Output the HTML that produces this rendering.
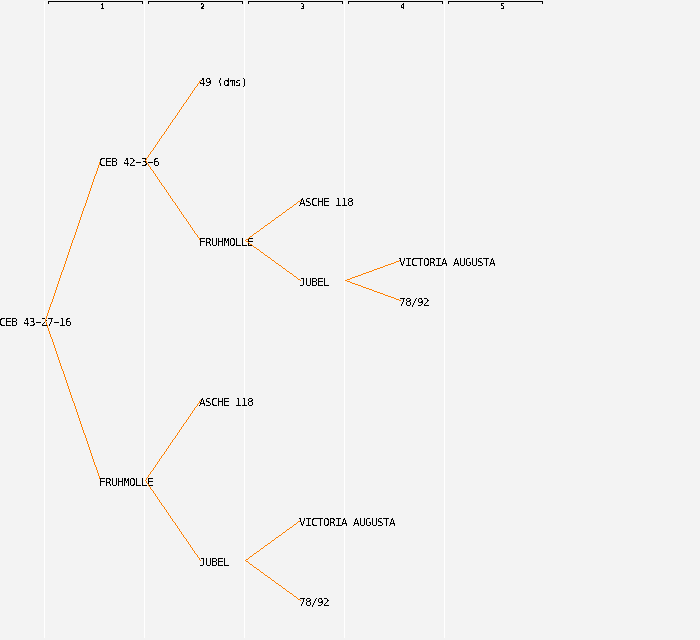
<!DOCTYPE html>
<html><head><meta charset="utf-8">
<style>
html,body{margin:0;padding:0;}
body{width:700px;height:640px;background:#f3f3f3;position:relative;overflow:hidden;}
.v{position:absolute;top:1px;width:1px;height:637px;background:#ffffff;}
.br{position:absolute;top:1px;height:2px;width:93px;border:1px solid #000;border-bottom:none;}
.n{position:absolute;font-family:"DejaVu Sans Mono",monospace;font-size:7.5px;line-height:8px;color:#000;filter:url(#thr2);}
.t{position:absolute;font-family:"DejaVu Sans Mono",monospace;font-size:11px;line-height:12px;letter-spacing:-0.62px;color:#000;white-space:pre;filter:url(#thr);}
svg.L{position:absolute;left:0;top:0;}
.m{display:inline-block;transform-origin:50% 0;transform:translateX(0.3px) scaleX(0.8);}
.p{display:inline-block;transform:translateY(-1px);}
.h{display:inline-block;transform:translateY(-1px) scaleX(1.8);}
</style></head><body>
<svg width="0" height="0" style="position:absolute"><filter id="thr" x="0" y="0" width="100%" height="100%"><feComponentTransfer><feFuncA type="discrete" tableValues="0 1"/></feComponentTransfer></filter><filter id="thr2" x="0" y="0" width="100%" height="100%"><feComponentTransfer><feFuncA type="discrete" tableValues="0 1 1"/></feComponentTransfer></filter></svg>

<div class="v" style="left:44px"></div>
<div class="v" style="left:144px"></div>
<div class="v" style="left:244px"></div>
<div class="v" style="left:344px"></div>
<div class="v" style="left:444px"></div>

<div class="br" style="left:48px"></div>
<div class="br" style="left:148px"></div>
<div class="br" style="left:248px"></div>
<div class="br" style="left:348px"></div>
<div class="br" style="left:448px"></div>
<div class="n" style="left:100.25px;top:3px">1</div>
<div class="n" style="left:200.25px;top:3px">2</div>
<div class="n" style="left:300.25px;top:3px">3</div>
<div class="n" style="left:400.25px;top:3px">4</div>
<div class="n" style="left:500.25px;top:3px">5</div>

<!-- generation 0 -->
<div class="t" style="left:-1px;top:317px">CEB 43<span class="h">-</span>27<span class="h">-</span>16</div>
<svg class="L" width="700" height="640" shape-rendering="crispEdges"><g fill="#ff8000">
<path d="M45 319h1v2h-1zM46 316h1v3h-1zM47 313h1v3h-1zM48 310h1v3h-1zM49 307h1v3h-1zM50 304h1v3h-1zM51 302h1v2h-1zM52 299h1v3h-1zM53 296h1v3h-1zM54 293h1v3h-1zM55 290h1v3h-1zM56 287h1v3h-1zM57 284h1v3h-1zM58 281h1v3h-1zM59 278h1v3h-1zM60 275h1v3h-1zM61 272h1v3h-1zM62 270h1v2h-1zM63 267h1v3h-1zM64 264h1v3h-1zM65 261h1v3h-1zM66 258h1v3h-1zM67 255h1v3h-1zM68 252h1v3h-1zM69 249h1v3h-1zM70 246h1v3h-1zM71 243h1v3h-1zM72 240h1v3h-1zM73 238h1v2h-1zM74 235h1v3h-1zM75 232h1v3h-1zM76 229h1v3h-1zM77 226h1v3h-1zM78 223h1v3h-1zM79 220h1v3h-1zM80 217h1v3h-1zM81 214h1v3h-1zM82 211h1v3h-1zM83 208h1v3h-1zM84 206h1v2h-1zM85 203h1v3h-1zM86 200h1v3h-1zM87 197h1v3h-1zM88 194h1v3h-1zM89 191h1v3h-1zM90 188h1v3h-1zM91 185h1v3h-1zM92 182h1v3h-1zM93 179h1v3h-1zM94 176h1v3h-1zM95 174h1v2h-1zM96 171h1v3h-1zM97 168h1v3h-1zM98 165h1v3h-1zM99 162h1v3h-1zM100 160h1v2h-1zM45 320h1v2h-1zM46 322h1v3h-1zM47 325h1v3h-1zM48 328h1v3h-1zM49 331h1v3h-1zM50 334h1v3h-1zM51 337h1v2h-1zM52 339h1v3h-1zM53 342h1v3h-1zM54 345h1v3h-1zM55 348h1v3h-1zM56 351h1v3h-1zM57 354h1v3h-1zM58 357h1v3h-1zM59 360h1v3h-1zM60 363h1v3h-1zM61 366h1v3h-1zM62 369h1v2h-1zM63 371h1v3h-1zM64 374h1v3h-1zM65 377h1v3h-1zM66 380h1v3h-1zM67 383h1v3h-1zM68 386h1v3h-1zM69 389h1v3h-1zM70 392h1v3h-1zM71 395h1v3h-1zM72 398h1v3h-1zM73 401h1v2h-1zM74 403h1v3h-1zM75 406h1v3h-1zM76 409h1v3h-1zM77 412h1v3h-1zM78 415h1v3h-1zM79 418h1v3h-1zM80 421h1v3h-1zM81 424h1v3h-1zM82 427h1v3h-1zM83 430h1v3h-1zM84 433h1v2h-1zM85 435h1v3h-1zM86 438h1v3h-1zM87 441h1v3h-1zM88 444h1v3h-1zM89 447h1v3h-1zM90 450h1v3h-1zM91 453h1v3h-1zM92 456h1v3h-1zM93 459h1v3h-1zM94 462h1v3h-1zM95 465h1v2h-1zM96 467h1v3h-1zM97 470h1v3h-1zM98 473h1v3h-1zM99 476h1v3h-1zM100 479h1v2h-1z"/>
</g></svg>

<!-- generation 1 -->
<div class="t" style="left:99px;top:157px">CEB 42<span class="h">-</span>3<span class="h">-</span>6</div>
<div class="t" style="left:99px;top:477px">FRUH<span class="m">M</span>OLLE</div>
<svg class="L" width="700" height="640" shape-rendering="crispEdges"><g fill="#ff8000">
<path d="M145 160h1v1h-1zM146 158h1v2h-1zM147 157h1v1h-1zM148 155h1v2h-1zM149 154h1v1h-1zM150 152h1v2h-1zM151 151h1v1h-1zM152 150h1v1h-1zM153 148h1v2h-1zM154 147h1v1h-1zM155 145h1v2h-1zM156 144h1v1h-1zM157 142h1v2h-1zM158 141h1v1h-1zM159 139h1v2h-1zM160 138h1v1h-1zM161 136h1v2h-1zM162 135h1v1h-1zM163 134h1v1h-1zM164 132h1v2h-1zM165 131h1v1h-1zM166 129h1v2h-1zM167 128h1v1h-1zM168 126h1v2h-1zM169 125h1v1h-1zM170 123h1v2h-1zM171 122h1v1h-1zM172 120h1v2h-1zM173 119h1v1h-1zM174 118h1v1h-1zM175 116h1v2h-1zM176 115h1v1h-1zM177 113h1v2h-1zM178 112h1v1h-1zM179 110h1v2h-1zM180 109h1v1h-1zM181 107h1v2h-1zM182 106h1v1h-1zM183 104h1v2h-1zM184 103h1v1h-1zM185 102h1v1h-1zM186 100h1v2h-1zM187 99h1v1h-1zM188 97h1v2h-1zM189 96h1v1h-1zM190 94h1v2h-1zM191 93h1v1h-1zM192 91h1v2h-1zM193 90h1v1h-1zM194 88h1v2h-1zM195 87h1v1h-1zM196 86h1v1h-1zM197 84h1v2h-1zM198 83h1v1h-1zM199 81h1v2h-1zM200 80h1v1h-1zM145 160h1v1h-1zM146 161h1v2h-1zM147 163h1v1h-1zM148 164h1v2h-1zM149 166h1v1h-1zM150 167h1v2h-1zM151 169h1v1h-1zM152 170h1v1h-1zM153 171h1v2h-1zM154 173h1v1h-1zM155 174h1v2h-1zM156 176h1v1h-1zM157 177h1v2h-1zM158 179h1v1h-1zM159 180h1v2h-1zM160 182h1v1h-1zM161 183h1v2h-1zM162 185h1v1h-1zM163 186h1v1h-1zM164 187h1v2h-1zM165 189h1v1h-1zM166 190h1v2h-1zM167 192h1v1h-1zM168 193h1v2h-1zM169 195h1v1h-1zM170 196h1v2h-1zM171 198h1v1h-1zM172 199h1v2h-1zM173 201h1v1h-1zM174 202h1v1h-1zM175 203h1v2h-1zM176 205h1v1h-1zM177 206h1v2h-1zM178 208h1v1h-1zM179 209h1v2h-1zM180 211h1v1h-1zM181 212h1v2h-1zM182 214h1v1h-1zM183 215h1v2h-1zM184 217h1v1h-1zM185 218h1v1h-1zM186 219h1v2h-1zM187 221h1v1h-1zM188 222h1v2h-1zM189 224h1v1h-1zM190 225h1v2h-1zM191 227h1v1h-1zM192 228h1v2h-1zM193 230h1v1h-1zM194 231h1v2h-1zM195 233h1v1h-1zM196 234h1v1h-1zM197 235h1v2h-1zM198 237h1v1h-1zM199 238h1v2h-1zM200 240h1v1h-1zM145 480h1v1h-1zM146 478h1v2h-1zM147 477h1v1h-1zM148 475h1v2h-1zM149 474h1v1h-1zM150 472h1v2h-1zM151 471h1v1h-1zM152 470h1v1h-1zM153 468h1v2h-1zM154 467h1v1h-1zM155 465h1v2h-1zM156 464h1v1h-1zM157 462h1v2h-1zM158 461h1v1h-1zM159 459h1v2h-1zM160 458h1v1h-1zM161 456h1v2h-1zM162 455h1v1h-1zM163 454h1v1h-1zM164 452h1v2h-1zM165 451h1v1h-1zM166 449h1v2h-1zM167 448h1v1h-1zM168 446h1v2h-1zM169 445h1v1h-1zM170 443h1v2h-1zM171 442h1v1h-1zM172 440h1v2h-1zM173 439h1v1h-1zM174 438h1v1h-1zM175 436h1v2h-1zM176 435h1v1h-1zM177 433h1v2h-1zM178 432h1v1h-1zM179 430h1v2h-1zM180 429h1v1h-1zM181 427h1v2h-1zM182 426h1v1h-1zM183 424h1v2h-1zM184 423h1v1h-1zM185 422h1v1h-1zM186 420h1v2h-1zM187 419h1v1h-1zM188 417h1v2h-1zM189 416h1v1h-1zM190 414h1v2h-1zM191 413h1v1h-1zM192 411h1v2h-1zM193 410h1v1h-1zM194 408h1v2h-1zM195 407h1v1h-1zM196 406h1v1h-1zM197 404h1v2h-1zM198 403h1v1h-1zM199 401h1v2h-1zM200 400h1v1h-1zM145 480h1v1h-1zM146 481h1v2h-1zM147 483h1v1h-1zM148 484h1v2h-1zM149 486h1v1h-1zM150 487h1v2h-1zM151 489h1v1h-1zM152 490h1v1h-1zM153 491h1v2h-1zM154 493h1v1h-1zM155 494h1v2h-1zM156 496h1v1h-1zM157 497h1v2h-1zM158 499h1v1h-1zM159 500h1v2h-1zM160 502h1v1h-1zM161 503h1v2h-1zM162 505h1v1h-1zM163 506h1v1h-1zM164 507h1v2h-1zM165 509h1v1h-1zM166 510h1v2h-1zM167 512h1v1h-1zM168 513h1v2h-1zM169 515h1v1h-1zM170 516h1v2h-1zM171 518h1v1h-1zM172 519h1v2h-1zM173 521h1v1h-1zM174 522h1v1h-1zM175 523h1v2h-1zM176 525h1v1h-1zM177 526h1v2h-1zM178 528h1v1h-1zM179 529h1v2h-1zM180 531h1v1h-1zM181 532h1v2h-1zM182 534h1v1h-1zM183 535h1v2h-1zM184 537h1v1h-1zM185 538h1v1h-1zM186 539h1v2h-1zM187 541h1v1h-1zM188 542h1v2h-1zM189 544h1v1h-1zM190 545h1v2h-1zM191 547h1v1h-1zM192 548h1v2h-1zM193 550h1v1h-1zM194 551h1v2h-1zM195 553h1v1h-1zM196 554h1v1h-1zM197 555h1v2h-1zM198 557h1v1h-1zM199 558h1v2h-1zM200 560h1v1h-1z"/>
</g></svg>

<!-- generation 2 -->
<div class="t" style="left:199px;top:77px">49 <span class="p">(</span>dms)</div>
<div class="t" style="left:199px;top:237px">FRUH<span class="m">M</span>OLLE</div>
<div class="t" style="left:199px;top:397px">ASCHE 118</div>
<div class="t" style="left:199px;top:557px">JUBEL</div>
<svg class="L" width="700" height="640" shape-rendering="crispEdges"><g fill="#ff8000">
<path d="M245 240h1v1h-1zM246 239h2v1h-2zM248 238h1v1h-1zM249 237h1v1h-1zM250 236h2v1h-2zM252 235h1v1h-1zM253 234h1v1h-1zM254 233h2v1h-2zM256 232h1v1h-1zM257 231h2v1h-2zM259 230h1v1h-1zM260 229h1v1h-1zM261 228h2v1h-2zM263 227h1v1h-1zM264 226h1v1h-1zM265 225h2v1h-2zM267 224h1v1h-1zM268 223h2v1h-2zM270 222h1v1h-1zM271 221h1v1h-1zM272 220h2v1h-2zM274 219h1v1h-1zM275 218h1v1h-1zM276 217h2v1h-2zM278 216h1v1h-1zM279 215h2v1h-2zM281 214h1v1h-1zM282 213h1v1h-1zM283 212h2v1h-2zM285 211h1v1h-1zM286 210h1v1h-1zM287 209h2v1h-2zM289 208h1v1h-1zM290 207h2v1h-2zM292 206h1v1h-1zM293 205h1v1h-1zM294 204h2v1h-2zM296 203h1v1h-1zM297 202h1v1h-1zM298 201h2v1h-2zM300 200h1v1h-1zM245 240h1v1h-1zM246 241h2v1h-2zM248 242h1v1h-1zM249 243h1v1h-1zM250 244h2v1h-2zM252 245h1v1h-1zM253 246h1v1h-1zM254 247h2v1h-2zM256 248h1v1h-1zM257 249h2v1h-2zM259 250h1v1h-1zM260 251h1v1h-1zM261 252h2v1h-2zM263 253h1v1h-1zM264 254h1v1h-1zM265 255h2v1h-2zM267 256h1v1h-1zM268 257h2v1h-2zM270 258h1v1h-1zM271 259h1v1h-1zM272 260h2v1h-2zM274 261h1v1h-1zM275 262h1v1h-1zM276 263h2v1h-2zM278 264h1v1h-1zM279 265h2v1h-2zM281 266h1v1h-1zM282 267h1v1h-1zM283 268h2v1h-2zM285 269h1v1h-1zM286 270h1v1h-1zM287 271h2v1h-2zM289 272h1v1h-1zM290 273h2v1h-2zM292 274h1v1h-1zM293 275h1v1h-1zM294 276h2v1h-2zM296 277h1v1h-1zM297 278h1v1h-1zM298 279h2v1h-2zM300 280h1v1h-1zM245 560h1v1h-1zM246 559h2v1h-2zM248 558h1v1h-1zM249 557h1v1h-1zM250 556h2v1h-2zM252 555h1v1h-1zM253 554h1v1h-1zM254 553h2v1h-2zM256 552h1v1h-1zM257 551h2v1h-2zM259 550h1v1h-1zM260 549h1v1h-1zM261 548h2v1h-2zM263 547h1v1h-1zM264 546h1v1h-1zM265 545h2v1h-2zM267 544h1v1h-1zM268 543h2v1h-2zM270 542h1v1h-1zM271 541h1v1h-1zM272 540h2v1h-2zM274 539h1v1h-1zM275 538h1v1h-1zM276 537h2v1h-2zM278 536h1v1h-1zM279 535h2v1h-2zM281 534h1v1h-1zM282 533h1v1h-1zM283 532h2v1h-2zM285 531h1v1h-1zM286 530h1v1h-1zM287 529h2v1h-2zM289 528h1v1h-1zM290 527h2v1h-2zM292 526h1v1h-1zM293 525h1v1h-1zM294 524h2v1h-2zM296 523h1v1h-1zM297 522h1v1h-1zM298 521h2v1h-2zM300 520h1v1h-1zM245 560h1v1h-1zM246 561h2v1h-2zM248 562h1v1h-1zM249 563h1v1h-1zM250 564h2v1h-2zM252 565h1v1h-1zM253 566h1v1h-1zM254 567h2v1h-2zM256 568h1v1h-1zM257 569h2v1h-2zM259 570h1v1h-1zM260 571h1v1h-1zM261 572h2v1h-2zM263 573h1v1h-1zM264 574h1v1h-1zM265 575h2v1h-2zM267 576h1v1h-1zM268 577h2v1h-2zM270 578h1v1h-1zM271 579h1v1h-1zM272 580h2v1h-2zM274 581h1v1h-1zM275 582h1v1h-1zM276 583h2v1h-2zM278 584h1v1h-1zM279 585h2v1h-2zM281 586h1v1h-1zM282 587h1v1h-1zM283 588h2v1h-2zM285 589h1v1h-1zM286 590h1v1h-1zM287 591h2v1h-2zM289 592h1v1h-1zM290 593h2v1h-2zM292 594h1v1h-1zM293 595h1v1h-1zM294 596h2v1h-2zM296 597h1v1h-1zM297 598h1v1h-1zM298 599h2v1h-2zM300 600h1v1h-1z"/>
</g></svg>

<!-- generation 3 -->
<div class="t" style="left:299px;top:197px">ASCHE 118</div>
<div class="t" style="left:299px;top:277px">JUBEL</div>
<div class="t" style="left:299px;top:517px">VICTORIA AUGUSTA</div>
<div class="t" style="left:299px;top:597px">78/92</div>
<svg class="L" width="700" height="640" shape-rendering="crispEdges"><g fill="#ff8000">
<path d="M345 280h2v1h-2zM347 279h3v1h-3zM350 278h2v1h-2zM352 277h3v1h-3zM355 276h3v1h-3zM358 275h3v1h-3zM361 274h2v1h-2zM363 273h3v1h-3zM366 272h3v1h-3zM369 271h3v1h-3zM372 270h2v1h-2zM374 269h3v1h-3zM377 268h3v1h-3zM380 267h3v1h-3zM383 266h2v1h-2zM385 265h3v1h-3zM388 264h3v1h-3zM391 263h3v1h-3zM394 262h2v1h-2zM396 261h3v1h-3zM399 260h2v1h-2zM345 280h2v1h-2zM347 281h3v1h-3zM350 282h2v1h-2zM352 283h3v1h-3zM355 284h3v1h-3zM358 285h3v1h-3zM361 286h2v1h-2zM363 287h3v1h-3zM366 288h3v1h-3zM369 289h3v1h-3zM372 290h2v1h-2zM374 291h3v1h-3zM377 292h3v1h-3zM380 293h3v1h-3zM383 294h2v1h-2zM385 295h3v1h-3zM388 296h3v1h-3zM391 297h3v1h-3zM394 298h2v1h-2zM396 299h3v1h-3zM399 300h2v1h-2z"/>
</g></svg>

<!-- generation 4 -->
<div class="t" style="left:399px;top:257px">VICTORIA AUGUSTA</div>
<div class="t" style="left:399px;top:297px">78/92</div>
</body></html>
